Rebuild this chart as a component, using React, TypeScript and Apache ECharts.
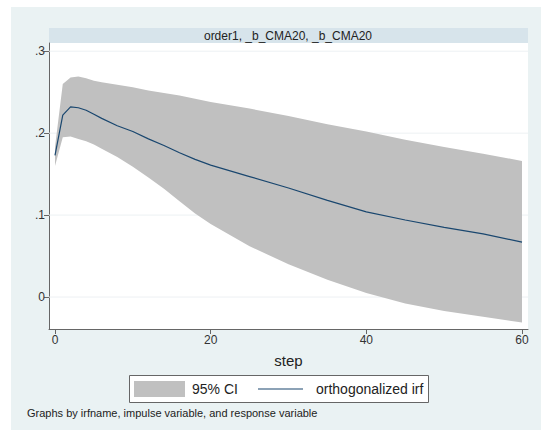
import React, { useEffect, useRef } from "react";
import * as echarts from "echarts";

const steps = [0, 1, 2, 3, 4, 5, 6, 8, 10, 12, 14, 16, 18, 20, 25, 30, 35, 40, 45, 50, 55, 60];
const irf = [0.173, 0.222, 0.232, 0.231, 0.228, 0.223, 0.218, 0.209, 0.202, 0.193, 0.185, 0.176, 0.168, 0.161, 0.147, 0.133, 0.118, 0.104, 0.094, 0.085, 0.077, 0.067];
const ciUpper = [0.183, 0.260, 0.268, 0.269, 0.267, 0.264, 0.262, 0.259, 0.256, 0.252, 0.249, 0.246, 0.242, 0.238, 0.230, 0.221, 0.211, 0.202, 0.192, 0.183, 0.175, 0.166];
const ciLower = [0.160, 0.195, 0.196, 0.193, 0.190, 0.186, 0.181, 0.171, 0.159, 0.146, 0.132, 0.117, 0.102, 0.089, 0.062, 0.040, 0.021, 0.005, -0.008, -0.017, -0.024, -0.031];
const xTicks = [0, 20, 40, 60];
const yTicks = [0, 0.1, 0.2, 0.3];

const panelTitle = "order1, _b_CMA20, _b_CMA20";
const xName = "step";
const legendCI = "95% CI";
const legendLine = "orthogonalized irf";
const note = "Graphs by irfname, impulse variable, and response variable";

const FONT = "'Liberation Sans', Arial, sans-serif";
const X_MIN = -0.77;
const X_MAX = 60.77;
const Y_MIN = -0.039;
const Y_MAX = 0.31;

export default function App() {
  const ref = useRef<HTMLDivElement>(null);
  useEffect(() => {
    if (!ref.current) return;
    const chart = echarts.init(ref.current, null, { renderer: "svg" });
    const fmtY = (v: number) => (v === 0 ? "0" : String(v).replace(/^0/, "").replace(/^-0/, "-"));
    chart.setOption({
      animation: false,
      backgroundColor: "transparent",
      grid: { left: 49, right: 13, top: 43, bottom: 101, show: true, backgroundColor: "#ffffff", borderWidth: 0 },
      xAxis: {
        type: "value",
        min: X_MIN,
        max: X_MAX,
        name: xName,
        nameLocation: "middle",
        nameGap: 24,
        nameTextStyle: { fontFamily: FONT, fontSize: 15, color: "#222" },
        axisLine: { show: true, onZero: false, lineStyle: { color: "#666", width: 1 } },
        axisTick: { show: true, customValues: xTicks, length: 5, lineStyle: { color: "#666" } },
        axisLabel: { customValues: xTicks, color: "#333", fontSize: 12, fontFamily: FONT, margin: 5 },
        splitLine: { show: false },
      },
      yAxis: {
        type: "value",
        min: Y_MIN,
        max: Y_MAX,
        axisLine: { show: true, onZero: false, lineStyle: { color: "#666", width: 1 } },
        axisTick: { show: true, customValues: yTicks, length: 5, lineStyle: { color: "#666" } },
        axisLabel: { customValues: yTicks, color: "#333", fontSize: 12, fontFamily: FONT, margin: 4, formatter: fmtY },
        splitLine: { show: false },
      },
      series: [
        {
          type: "custom",
          z: 2,
          silent: true,
          data: [[0, 0]],
          renderItem: (params: any, api: any) => {
            const children: any[] = [];
            yTicks.forEach((t) => {
              const a = api.coord([X_MIN, t]);
              const b = api.coord([X_MAX, t]);
              children.push({
                type: "line",
                shape: { x1: a[0], y1: a[1], x2: b[0], y2: b[1] },
                style: { stroke: "#edf1f3", lineWidth: 1 },
              });
            });
            const pts: number[][] = [];
            steps.forEach((s, i) => pts.push(api.coord([s, ciUpper[i]])));
            for (let i = steps.length - 1; i >= 0; i--) pts.push(api.coord([steps[i], ciLower[i]]));
            children.push({
              type: "polygon",
              shape: { points: pts },
              style: { fill: "#c0c0c0", stroke: "none" },
            });
            return { type: "group", children };
          },
        },
        {
          type: "line",
          z: 3,
          data: steps.map((s, i) => [s, irf[i]]),
          symbol: "none",
          lineStyle: { color: "#1a476f", width: 1.2 },
        },
      ],
      graphic: [
        { type: "rect", shape: { x: 49, y: 28, width: 479, height: 15 }, style: { fill: "#d7e4eb" } },
        {
          type: "text",
          x: 288,
          y: 35.5,
          style: { text: panelTitle, fill: "#222", fontSize: 12, fontFamily: FONT, align: "center", verticalAlign: "middle" },
        },
        { type: "rect", shape: { x: 129.5, y: 375.5, width: 299, height: 27 }, style: { fill: "#ffffff", stroke: "#666", lineWidth: 1 } },
        { type: "rect", shape: { x: 134, y: 381, width: 51, height: 16 }, style: { fill: "#c0c0c0" } },
        {
          type: "text",
          x: 192,
          y: 389,
          style: { text: legendCI, fill: "#222", fontSize: 14, fontFamily: FONT, verticalAlign: "middle" },
        },
        { type: "line", shape: { x1: 258, y1: 389, x2: 303, y2: 389 }, style: { stroke: "#1a476f", lineWidth: 1.2 } },
        {
          type: "text",
          x: 316,
          y: 389,
          style: { text: legendLine, fill: "#222", fontSize: 14, fontFamily: FONT, verticalAlign: "middle" },
        },
        {
          type: "text",
          x: 27,
          y: 413,
          style: { text: note, fill: "#222", fontSize: 11, fontFamily: FONT, verticalAlign: "middle" },
        },
      ],
    });
    return () => chart.dispose();
  }, []);
  return (
    <div style={{ position: "fixed", left: 0, top: 0, width: 541, height: 430, background: "#ffffff" }}>
      <div style={{ position: "absolute", left: 11, top: 7, width: 530, height: 423, background: "#eaf2f3" }} />
      <div ref={ref} style={{ position: "absolute", left: 0, top: 0, width: 541, height: 430 }} />
    </div>
  );
}
